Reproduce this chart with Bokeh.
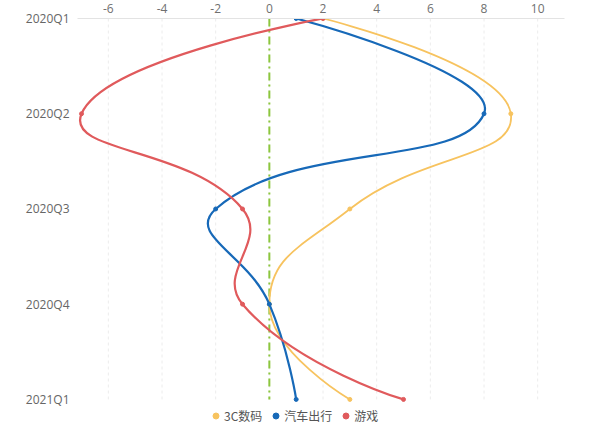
import math
from bokeh.plotting import figure
from bokeh.models import Range1d, FixedTicker, Legend, LegendItem, ColumnDataSource
from bokeh.embed import file_html
from bokeh.resources import INLINE

# ---- data ----
quarters = ["2020Q1", "2020Q2", "2020Q3", "2020Q4", "2021Q1"]
digital_3c = [2, 9, 3, 0, 3]
auto_travel = [1, 8, -2, 0, 1]
games = [2, -7, -1, -1, 5]
series_names = ["3C数码", "汽车出行", "游戏"]
x_ticks = [-6, -4, -2, 0, 2, 4, 6, 8, 10]
zero_line = 0

# ---- style ----
colors = ["#f7c35f", "#1769b8", "#e05a5c"]
widths = [1.8, 2.2, 2.2]
PX_X = 26.8   # pixels per x unit (for smoothing aspect)
PX_Y = 95.5   # pixels per category step
SMOOTH = 0.5
Y_PAD = 0.40  # room below the last category for the legend


def smooth_segments(values):
    """ECharts-like smooth curve: bezier segments through the data points."""
    pts = [(v * PX_X, i * PX_Y) for i, v in enumerate(values)]
    n = len(pts)
    out = {k: [] for k in ("x0", "y0", "x1", "y1", "cx0", "cy0", "cx1", "cy1")}
    cp0 = pts[0]
    for k in range(1, n):
        p = pts[k]
        prev = pts[k - 1]
        if k == n - 1:
            cp1 = p
            ncp0 = p
        else:
            nxt = pts[k + 1]
            vx, vy = nxt[0] - prev[0], nxt[1] - prev[1]
            lp = math.dist(p, prev)
            ln = math.dist(p, nxt)
            r = ln / (ln + lp)
            cp1 = (p[0] - vx * SMOOTH * (1 - r), p[1] - vy * SMOOTH * (1 - r))
            ncp0 = (p[0] + vx * SMOOTH * r, p[1] + vy * SMOOTH * r)
        out["x0"].append(prev[0] / PX_X); out["y0"].append(prev[1] / PX_Y)
        out["x1"].append(p[0] / PX_X); out["y1"].append(p[1] / PX_Y)
        out["cx0"].append(cp0[0] / PX_X); out["cy0"].append(cp0[1] / PX_Y)
        out["cx1"].append(cp1[0] / PX_X); out["cy1"].append(cp1[1] / PX_Y)
        cp0 = ncp0
    return out


last = len(quarters) - 1
p = figure(width=587, height=437, x_range=Range1d(-7.15, 11), y_range=Range1d(last + Y_PAD, 0),
           x_axis_location="above", output_backend="svg", toolbar_location=None,
           min_border_left=77, min_border_right=23, min_border_top=0, min_border_bottom=0)
p.outline_line_color = None
p.background_fill_color = "white"

# axes
p.xaxis.ticker = FixedTicker(ticks=x_ticks)
p.xaxis.major_label_overrides = {t: str(t) for t in x_ticks}
p.xaxis.axis_line_color = "#e3e3e3"
p.xaxis.major_tick_line_color = None
p.xaxis.minor_tick_line_color = None
p.xaxis.major_label_standoff = 0
p.xaxis.major_label_text_color = "#707070"
p.xaxis.major_label_text_font = "Open Sans"
p.xaxis.major_label_text_font_size = "12px"

p.yaxis.ticker = FixedTicker(ticks=list(range(len(quarters))))
p.yaxis.major_label_overrides = {i: q for i, q in enumerate(quarters)}
p.yaxis.axis_line_color = None
p.yaxis.major_tick_line_color = None
p.yaxis.minor_tick_line_color = None
p.yaxis.major_label_standoff = 2
p.yaxis.major_label_text_color = "#666666"
p.yaxis.major_label_text_font = "Open Sans"
p.yaxis.major_label_text_font_size = "12px"

p.xgrid.grid_line_color = None
p.ygrid.grid_line_color = None

# faint vertical grid lines limited to the category span
p.segment(x0=x_ticks, y0=[0] * len(x_ticks), x1=x_ticks, y1=[last] * len(x_ticks),
          line_color="#ececec", line_width=1, line_dash="3 3")

# zero reference line
p.segment(x0=[zero_line], y0=[0], x1=[zero_line], y1=[last], line_color="#8cc63e",
          line_width=2, line_dash="8 4 2 4")

items = []
for name, vals, col, w in zip(series_names, [digital_3c, auto_travel, games], colors, widths):
    seg = ColumnDataSource(smooth_segments(vals))
    p.bezier(x0="x0", y0="y0", x1="x1", y1="y1", cx0="cx0", cy0="cy0", cx1="cx1", cy1="cy1",
             source=seg, line_color=col, line_width=w)
    pts = ColumnDataSource(dict(x=vals, y=list(range(len(vals)))))
    r = p.scatter(x="x", y="y", source=pts, size=4, fill_color=col, line_color=col, marker="circle")
    items.append(LegendItem(label=name, renderers=[r]))

legend = Legend(items=items, orientation="horizontal", location=(131, 13),
                glyph_width=15, glyph_height=15, label_standoff=1, spacing=6,
                padding=0, margin=0, border_line_color=None, background_fill_alpha=0,
                label_text_font="Noto Sans CJK SC", label_text_font_size="12px",
                label_text_color="#555555")
p.add_layout(legend, "center")

open("out.html", "w").write(file_html(p, INLINE))
